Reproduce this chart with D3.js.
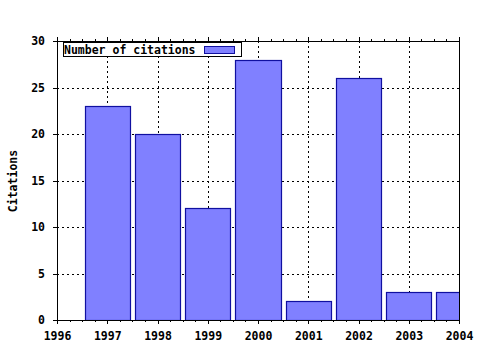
<!DOCTYPE html>
<html lang="en">
<head>
<script src="https://d3js.org/d3.v7.min.js"></script>
<style>
  body { margin: 0; background: #fff; }
  text { font-family: "DejaVu Sans Mono", monospace; font-weight: bold; font-size: 11.5px; fill: #000; }
</style>
</head>
<body>
<svg id="chart" width="480" height="350"></svg>
<script>
// data
const years = [1997, 1998, 1999, 2000, 2001, 2002, 2003, 2004];
const citations = [23, 20, 12, 28, 2, 26, 3, 3];
const xTicks = [1996, 1997, 1998, 1999, 2000, 2001, 2002, 2003, 2004];
const yTicks = [0, 5, 10, 15, 20, 25, 30];
const seriesName = "Number of citations";
const yLabel = "Citations";

const width = 480, height = 350;
const plotL = 57, plotR = 459, plotT = 41, plotB = 320;

const svg = d3.select("#chart");
svg.append("rect").attr("width", width).attr("height", height).attr("fill", "#fff");

const x = d3.scaleLinear().domain([1996, 2004]).range([plotL, plotR]);
const y = d3.scaleLinear().domain([0, 30]).range([plotB, plotT]);

// grid
const grid = svg.append("g").attr("stroke", "#000").attr("stroke-dasharray", "2,3").attr("shape-rendering", "crispEdges");
grid.selectAll(".gx").data(xTicks.slice(1, -1)).join("line")
    .attr("x1", d => Math.round(x(d)) + 0.5).attr("x2", d => Math.round(x(d)) + 0.5)
    .attr("y1", plotT).attr("y2", plotB);
grid.selectAll(".gy").data(yTicks.slice(1, -1)).join("line")
    .attr("x1", plotL).attr("x2", plotR)
    .attr("y1", d => Math.round(y(d)) + 0.5).attr("y2", d => Math.round(y(d)) + 0.5);

// bars
svg.append("clipPath").attr("id", "clip").append("rect")
    .attr("x", plotL).attr("y", plotT).attr("width", plotR - plotL + 1).attr("height", plotB - plotT);
const half = 0.45;
svg.append("g").attr("clip-path", "url(#clip)")
  .selectAll("rect").data(years).join("rect")
    .attr("x", (d) => Math.round(x(d - half)) + 0.5)
    .attr("width", (d) => Math.round(x(d + half)) - Math.round(x(d - half)))
    .attr("y", (d, i) => Math.round(y(citations[i])) + 0.5)
    .attr("height", (d, i) => plotB - Math.round(y(citations[i])))
    .attr("fill", "#8080ff").attr("stroke", "#1010a0").attr("stroke-width", 1.2);

// axes
const xAxis = d3.axisBottom(x).tickValues(xTicks).tickFormat(d3.format("d")).tickSize(4).tickPadding(8);
const gx = svg.append("g").attr("transform", `translate(0,${plotB})`).call(xAxis);
const yAxis = d3.axisLeft(y).tickValues(yTicks).tickSize(4).tickPadding(8);
const gy = svg.append("g").attr("transform", `translate(${plotL},0)`).call(yAxis);
const topAxis = d3.axisTop(x).tickValues(xTicks).tickFormat("").tickSize(4);
const gt = svg.append("g").attr("transform", `translate(0,${plotT})`).call(topAxis);

// minor ticks
const minor = d3.range(1996, 2004.01, 0.25).filter(v => Math.abs(v - Math.round(v)) > 0.01);
svg.append("g").selectAll("line").data(minor).join("line")
    .attr("x1", d => Math.round(x(d)) + 0.5).attr("x2", d => Math.round(x(d)) + 0.5)
    .attr("y1", plotB).attr("y2", plotB + 2).attr("stroke", "#000");
svg.append("g").selectAll("line").data(minor).join("line")
    .attr("x1", d => Math.round(x(d)) + 0.5).attr("x2", d => Math.round(x(d)) + 0.5)
    .attr("y1", plotT).attr("y2", plotT - 2).attr("stroke", "#000");

[gx, gy, gt].forEach(g => {
  g.select(".domain").remove();
  g.selectAll("text").attr("font-family", null).attr("font-size", null);
  g.attr("font-family", null).attr("font-size", null);
  g.selectAll("line").attr("shape-rendering", "crispEdges");
});

// frame
svg.append("rect").attr("x", plotL + 0.5).attr("y", plotT + 0.5)
    .attr("width", plotR - plotL).attr("height", plotB - plotT)
    .attr("fill", "none").attr("stroke", "#000").attr("stroke-width", 1.3)
    .attr("shape-rendering", "crispEdges");

// legend
const lg = svg.append("g");
lg.append("rect").attr("x", 63.5).attr("y", 42.5).attr("width", 178).attr("height", 14)
    .attr("fill", "#fff").attr("stroke", "#000").attr("shape-rendering", "crispEdges");
lg.append("text").attr("x", 64).attr("y", 54).text(seriesName);
lg.append("rect").attr("x", 204.5).attr("y", 46.5).attr("width", 30).attr("height", 7)
    .attr("fill", "#8080ff").attr("stroke", "#1010a0");

// y label
svg.append("text").attr("transform", "translate(17,181) rotate(-90)")
    .attr("text-anchor", "middle").text(yLabel);
</script>
</body>
</html>
